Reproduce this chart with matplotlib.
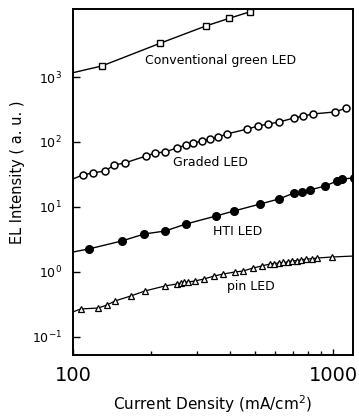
import matplotlib.pyplot as plt
from matplotlib.ticker import LogLocator, NullFormatter, FixedLocator, FixedFormatter

# values (current density in mA/cm2, EL in a.u.)
conv_x = [129, 216, 324, 399, 480]
conv_y = [1476, 3296, 6090, 8000, 10100]
conv_start = 1165

graded_x = [109, 119, 133, 144, 158, 191, 207, 226, 251, 272, 290, 314, 337, 361,
            391, 467, 515, 562, 620, 708, 768, 838, 1019, 1122]
graded_y = [31.1, 33.4, 35.8, 44.3, 47.5, 60.9, 67.8, 70.2, 80.9, 90, 96.5, 103.6,
            111, 119, 133, 158, 176, 189, 203, 234, 251, 270, 290, 333]
graded_start = 27

hti_x = [115, 154, 188, 226, 272, 355, 416, 524, 620, 708, 760, 816, 931, 1036, 1083, 1205]
hti_y = [2.26, 3.0, 3.84, 4.27, 5.47, 7.27, 8.68, 11.1, 13.3, 16.4, 17.0, 18.3, 21.0,
         25.1, 27.0, 27.9]
hti_start = 2.03

pin_x = [107, 125, 135, 145, 167, 189, 226, 251, 260, 267, 277, 294, 319, 349, 378,
         420, 451, 492, 533, 573, 593, 620, 642, 672, 695, 727, 753, 788, 830, 868, 991]
pin_y = [0.27, 0.279, 0.31, 0.358, 0.428, 0.51, 0.61, 0.654, 0.677, 0.69, 0.70, 0.727,
         0.78, 0.867, 0.931, 1.0, 1.035, 1.15, 1.24, 1.33, 1.35, 1.38, 1.40, 1.43, 1.48,
         1.50, 1.53, 1.58, 1.60, 1.64, 1.70]
pin_start = 0.243
pin_end = 1.76

x_min, x_max = 100, 1200

fig = plt.figure(figsize=(3.59, 4.18), dpi=100)
ax = fig.add_axes([0.2033, 0.1507, 0.78, 0.827])

lw = 1.0
ax.plot([x_min] + conv_x, [conv_start] + conv_y, color='black', lw=lw,
        marker='s', markersize=5, mfc='white', mec='black', mew=1.0, markevery=list(range(1, len(conv_x) + 1)))
ax.plot([x_min] + graded_x, [graded_start] + graded_y, color='black', lw=lw,
        marker='o', markersize=5, mfc='white', mec='black', mew=1.1, markevery=list(range(1, len(graded_x) + 1)))
ax.plot([x_min] + hti_x, [hti_start] + hti_y, color='black', lw=lw,
        marker='o', markersize=5.5, mfc='black', mec='black', markevery=list(range(1, len(hti_x) + 1)))
ax.plot([x_min] + pin_x + [x_max], [pin_start] + pin_y + [pin_end], color='black', lw=0.9,
        marker='^', markersize=4.5, mfc='white', mec='black', mew=0.9, markevery=list(range(1, len(pin_x) + 1)))

ax.set_xscale('log')
ax.set_yscale('log')
ax.set_xlim(x_min, 1194)
ax.set_ylim(0.0528, 11000)

ax.xaxis.set_major_locator(FixedLocator([100, 1000]))
ax.xaxis.set_major_formatter(FixedFormatter(['100', '1000']))
ax.xaxis.set_minor_locator(LogLocator(base=10, subs=range(2, 10)))
ax.xaxis.set_minor_formatter(NullFormatter())
ax.yaxis.set_major_locator(FixedLocator([0.1, 1, 10, 100, 1000]))
ax.yaxis.set_minor_locator(FixedLocator([]))

ax.tick_params(axis='x', which='major', direction='in', length=4, width=1, labelsize=14, pad=8)
ax.tick_params(axis='x', which='minor', direction='in', length=3, width=1)
ax.tick_params(axis='y', which='major', direction='in', length=5, width=1, labelsize=9, pad=8)

for s in ax.spines.values():
    s.set_linewidth(1.4)

ax.set_xlabel('Current Density (mA/cm$^2$)', fontsize=11, labelpad=6)
ax.set_ylabel('EL Intensity ( a. u. )', fontsize=10.5)
ax.yaxis.set_label_coords(-0.17, 0.53)

ax.text(0.257, 0.853, 'Conventional green LED', transform=ax.transAxes, fontsize=9, va='center')
ax.text(0.357, 0.558, 'Graded LED', transform=ax.transAxes, fontsize=9, va='center')
ax.text(0.50, 0.356, 'HTI LED', transform=ax.transAxes, fontsize=9, va='center')
ax.text(0.55, 0.197, 'pin LED', transform=ax.transAxes, fontsize=9, va='center')

fig.savefig('out.png', dpi=100)
